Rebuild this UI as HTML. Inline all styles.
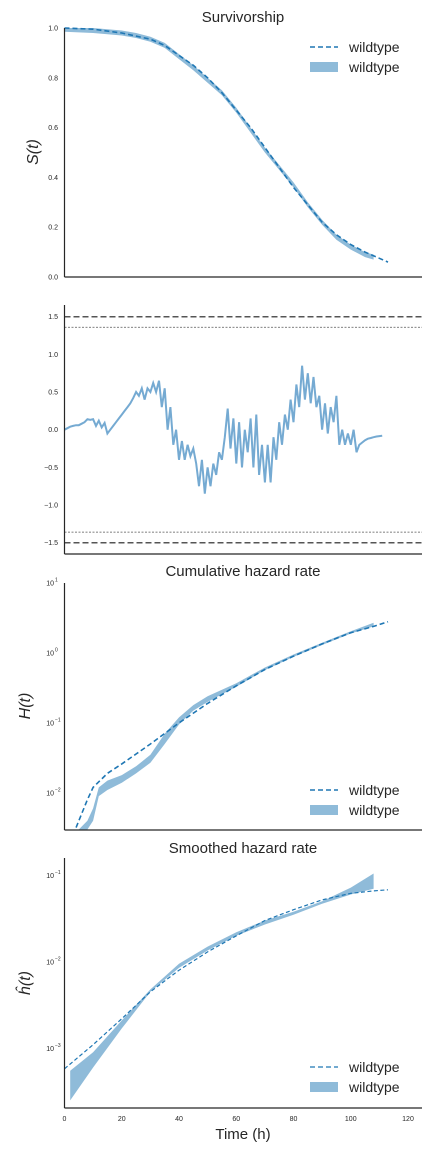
<!DOCTYPE html>
<html><head><meta charset="utf-8"><style>
body{margin:0;background:#fff;}
svg{display:block;font-family:"Liberation Sans","DejaVu Sans",sans-serif;}
</style></head><body>
<svg id="c" width="432" height="1152"></svg>
<script>
// ---- data ----
const survT=[0,10,20,30,35,40,45,50,55,60,65,70,75,80,85,90,95,100,105,110,113];
const survModel=[1.0,0.995,0.98,0.955,0.93,0.89,0.85,0.80,0.74,0.67,0.60,0.52,0.44,0.36,0.29,0.22,0.17,0.13,0.10,0.075,0.06];
const survEmpT=[0,10,20,25,30,35,40,45,50,55,60,65,70,75,80,85,90,95,100,105,108];
const survEmp=[0.995,0.99,0.98,0.97,0.955,0.93,0.885,0.84,0.79,0.74,0.67,0.59,0.51,0.44,0.37,0.29,0.22,0.16,0.12,0.09,0.08];
const residV=[0,0.02,0.04,0.05,0.06,0.06,0.08,0.1,0.14,0.13,0.14,0.05,0.12,0.03,0.09,-0.05,0.0,0.05,0.1,0.15,0.2,0.25,0.3,0.35,0.42,0.5,0.45,0.55,0.4,0.55,0.5,0.62,0.5,0.65,0.3,0.55,0.0,0.3,-0.2,0.0,-0.4,-0.15,-0.4,-0.2,-0.35,-0.25,-0.45,-0.75,-0.4,-0.85,-0.5,-0.75,-0.45,-0.6,-0.3,-0.4,-0.1,0.28,-0.25,0.15,-0.45,0.1,-0.5,0.0,-0.3,0.15,-0.5,0.2,-0.6,-0.2,-0.7,-0.2,-0.7,-0.1,-0.4,0.1,-0.2,0.2,0.0,0.4,0.1,0.6,0.3,0.85,0.4,0.75,0.35,0.7,0.3,0.45,0.0,0.35,-0.05,0.3,0.1,0.45,-0.2,0.0,-0.2,-0.05,-0.2,0.0,-0.3,-0.2,-0.17,-0.14,-0.12,-0.11,-0.1,-0.09,-0.085,-0.08];
const chT=[3,5,8,10,15,20,25,30,40,50,60,70,80,90,100,108,113];
const chModel=[0.0025,0.004,0.008,0.012,0.019,0.026,0.036,0.05,0.1,0.19,0.34,0.58,0.9,1.35,1.95,2.4,2.8];
const chEmpT=[5,8,10,12,15,20,25,30,35,40,45,50,60,70,80,90,100,108];
const chLow=[0.002,0.003,0.004,0.009,0.011,0.014,0.019,0.027,0.05,0.095,0.15,0.2,0.33,0.57,0.88,1.3,1.9,2.4];
const chHigh=[0.003,0.004,0.006,0.012,0.015,0.018,0.024,0.035,0.07,0.12,0.18,0.24,0.37,0.62,0.95,1.4,2.05,2.7];
const shT=[0,10,20,30,40,50,60,70,80,90,100,108,113];
const shModel=[0.00058,0.0011,0.0022,0.0045,0.008,0.013,0.02,0.03,0.04,0.052,0.062,0.066,0.068];
const shT2=[2,10,20,30,40,50,60,70,80,90,100,108];
const shLow=[0.00025,0.0006,0.0017,0.0045,0.0085,0.0135,0.02,0.027,0.035,0.047,0.06,0.07];
const shHigh=[0.00055,0.0009,0.0021,0.0048,0.0095,0.015,0.022,0.03,0.038,0.05,0.072,0.105];
const xTicks=[0,20,40,60,80,100,120];
const survTicks=[0,0.2,0.4,0.6,0.8,1.0];
const residTicks=[-1.5,-1.0,-0.5,0.0,0.5,1.0,1.5];
// ---- helpers ----
const svg=document.getElementById('c');const NS='http://www.w3.org/2000/svg';
function mk(tag,at,name,parent){const e=document.createElementNS(NS,tag);for(const k in at)e.setAttribute(k,at[k]);


(parent||svg).appendChild(e);return e;}
function txt(x,y,s,size,name,extra){const e=mk('text',Object.assign({x:x,y:y,'font-size':size,fill:'#262626'},extra||{}),name);e.textContent=s;return e;}
const X0=64.5,X1=422;const sx=t=>64.5+t*2.8625;
function lin(v,a,b,top,bot){return bot-(v-a)/(b-a)*(bot-top);}
function logy(v,a,b,top,bot){return bot-(Math.log10(v)-a)/(b-a)*(bot-top);}
function path(ts,vs,fy){return ts.map((t,i)=>(i?'L':'M')+sx(t).toFixed(1)+','+fy(vs[i]).toFixed(1)).join('');}
function band(ts,lo,hi,fy){let d=path(ts,hi,fy);for(let i=ts.length-1;i>=0;i--)d+='L'+sx(ts[i]).toFixed(1)+','+fy(lo[i]).toFixed(1);return d+'Z';}
function axes(top,bot,name){mk('line',{x1:X0,y1:top,x2:X0,y2:bot,stroke:'#262626','stroke-width':1.2},name+'-y-axis');mk('line',{x1:X0,y1:bot,x2:X1,y2:bot,stroke:'#262626','stroke-width':1.2},name+'-x-axis');}
function legend(y,dashW,name){const g=mk('g',{},name);
mk('line',{x1:310,y1:y,x2:338,y2:y,stroke:'#1f77b4','stroke-width':dashW,'stroke-dasharray':'5,3'},'legend-model-line',g);
txt(349,y+5,'wildtype',14,'legend-model-label');
mk('rect',{x:310,y:y+15,width:28,height:10,fill:'#1f77b4','fill-opacity':0.5},'legend-band-swatch',g);
txt(349,y+25,'wildtype',14,'legend-band-label');}
// ---- panel 1 ----
{const top=28,bot=277,fy=v=>lin(v,0,1,top,bot);
txt(243,22,'Survivorship',15,'survivorship-title',{'text-anchor':'middle'});
txt(38,152,'S(t)',16,'survival-y-label',{'text-anchor':'middle','font-style':'italic',transform:'rotate(-90 38 152)'});
survTicks.forEach(v=>txt(58,fy(v)+2.5,v.toFixed(1),7,'survival-y-tick',{'text-anchor':'end'}));
mk('path',{d:band(survEmpT,survEmp.map(v=>v-0.01),survEmp.map(v=>Math.min(1,v+0.01)),fy),fill:'#1f77b4','fill-opacity':0.5},'survival-band');
mk('path',{d:path(survT,survModel,fy),fill:'none',stroke:'#1f77b4','stroke-width':1.6,'stroke-dasharray':'5,3'},'survival-model-line');
axes(top,bot,'survival');legend(47,1.6,'survival-legend');}
// ---- panel 2 ----
{const top=305,bot=554,fy=v=>lin(v,-1.5,1.5,316.7,542.7);
residTicks.forEach(v=>txt(58,fy(v)+2.5,(v<0?'\u2212'+(-v).toFixed(1):v.toFixed(1)),7,'residual-y-tick',{'text-anchor':'end'}));
[1.5,-1.5].forEach(v=>mk('line',{x1:X0,x2:X1,y1:fy(v),y2:fy(v),stroke:'#555','stroke-width':1.5,'stroke-dasharray':'6,3'},'residual-bound-outer'));
[1.36,-1.36].forEach(v=>mk('line',{x1:X0,x2:X1,y1:fy(v),y2:fy(v),stroke:'#555','stroke-width':0.8,'stroke-dasharray':'2,1.5'},'residual-bound-inner'));
const ts=residV.map((v,i)=>i);
mk('path',{d:path(ts,residV,fy),fill:'none',stroke:'#75aad2','stroke-width':2},'residual-line');
axes(top,bot,'residual');}
// ---- panel 3 ----
{const top=583,bot=830,fy=v=>logy(v,-2.53,1,top,bot);
txt(243,576,'Cumulative hazard rate',15,'cumhaz-title',{'text-anchor':'middle'});
txt(30,706,'H(t)',16,'cumhaz-y-label',{'text-anchor':'middle','font-style':'italic',transform:'rotate(-90 30 706)'});
[[1,'1'],[0,'0'],[-1,'\u22121'],[-2,'\u22122']].forEach(p=>{txt(54,fy(Math.pow(10,p[0]))+2.5,'10',7,'cumhaz-y-tick',{'text-anchor':'end'});txt(55,fy(Math.pow(10,p[0]))-1.5,p[1],5,'cumhaz-y-tick-exp');});
const cp=mk('clipPath',{id:'cp3'},'clip3');mk('rect',{x:X0,y:top,width:X1-X0,height:bot-top},'clip3-rect',cp);
mk('path',{d:band(chEmpT,chLow,chHigh,fy),fill:'#1f77b4','fill-opacity':0.5,'clip-path':'url(#cp3)'},'cumhaz-band');
mk('path',{d:path(chT,chModel,fy),fill:'none',stroke:'#1f77b4','stroke-width':1.6,'stroke-dasharray':'5,3','clip-path':'url(#cp3)'},'cumhaz-model-line');
axes(top,bot,'cumhaz');legend(790,1.6,'cumhaz-legend');}
// ---- panel 4 ----
{const top=858,bot=1108,fy=v=>logy(v,-3.69,-0.8,top,bot);
txt(243,853,'Smoothed hazard rate',15,'smoothhaz-title',{'text-anchor':'middle'});
txt(30,983,'\u0125(t)',16,'smoothhaz-y-label',{'text-anchor':'middle','font-style':'italic',transform:'rotate(-90 30 983)'});
[[-1,'\u22121'],[-2,'\u22122'],[-3,'\u22123']].forEach(p=>{txt(54,fy(Math.pow(10,p[0]))+2.5,'10',7,'smoothhaz-y-tick',{'text-anchor':'end'});txt(55,fy(Math.pow(10,p[0]))-1.5,p[1],5,'smoothhaz-y-tick-exp');});
mk('path',{d:band(shT2,shLow,shHigh,fy),fill:'#1f77b4','fill-opacity':0.5},'smoothhaz-band');
mk('path',{d:path(shT,shModel,fy),fill:'none',stroke:'#1f77b4','stroke-width':1.2,'stroke-dasharray':'4,2.5'},'smoothhaz-model-line');
axes(top,bot,'smoothhaz');legend(1067,1.2,'smoothhaz-legend');
xTicks.forEach(t=>txt(sx(t),1121,String(t),7,'x-tick',{'text-anchor':'middle'}));
txt(243,1139,'Time (h)',15,'x-axis-title',{'text-anchor':'middle'});}
</script>
</body></html>
